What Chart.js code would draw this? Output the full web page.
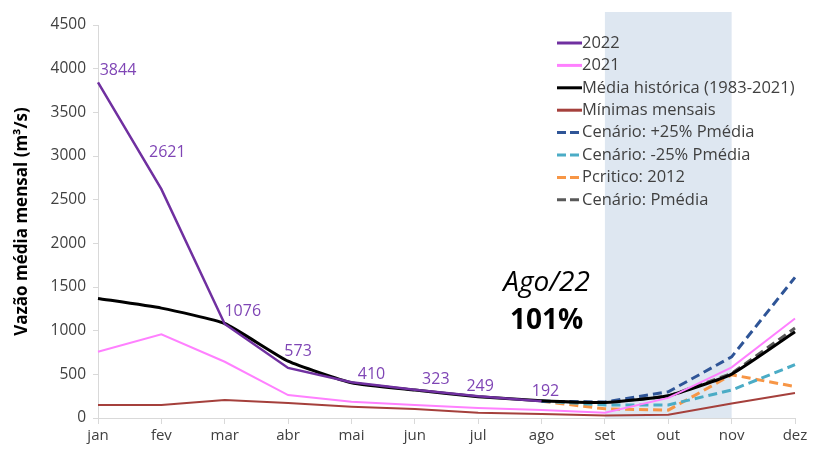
<!DOCTYPE html>
<html>
<head>
<meta charset="utf-8">
<script src="https://cdn.jsdelivr.net/npm/chart.js@4.4.1/dist/chart.umd.min.js"></script>
<style>
  html, body { margin: 0; padding: 0; background: #fff; }
  #wrap { width: 813px; height: 451px; }
</style>
</head>
<body>
<div id="wrap"><canvas id="chart"></canvas></div>
<script>
// Meses e valores (m³/s)
const months = ['jan', 'fev', 'mar', 'abr', 'mai', 'jun', 'jul', 'ago', 'set', 'out', 'nov', 'dez'];
const yTicks = [0, 500, 1000, 1500, 2000, 2500, 3000, 3500, 4000, 4500];

const vazao2022 = [3844, 2621, 1076, 573, 410, 323, 249, 192, null, null, null, null];
const vazao2021 = [759, 958, 644, 263, 187, 149, 114, 92, 60, 230, 580, 1140];
const mediaHistorica = [1369, 1258, 1082, 650, 404, 320, 244, 198, 178, 255, 503, 988];
const minimasMensais = [149, 148, 206, 172, 130, 103, 61, 46, 30, 38, 165, 285];
const cenarioMais25 = [null, null, null, null, null, null, null, 192, 182, 300, 700, 1610];
const cenarioMenos25 = [null, null, null, null, null, null, null, 192, 150, 150, 320, 610];
const pCritico2012 = [null, null, null, null, null, null, null, 192, 105, 90, 495, 360];
const cenarioPmedia = [null, null, null, null, null, null, null, 192, 178, 250, 510, 1030];

const shadeFrom = 'set';
const shadeTo = 'nov';
const annotationTitle = 'Ago/22';
const annotationValue = '101%';

// label offsets (px) for the 2022 data labels
const labelOffsets = [[20, -12], [6, -37], [18, -13], [10, -17], [20, -8], [21, -10], [2, -10], [4, -10]];

const FONT = "'Open Sans', sans-serif";

const shadePlugin = {
  id: 'shade',
  beforeDatasetsDraw(chart) {
    const { ctx, chartArea, scales } = chart;
    const x1 = scales.x.getPixelForValue(months.indexOf(shadeFrom));
    const x2 = scales.x.getPixelForValue(months.indexOf(shadeTo));
    ctx.save();
    ctx.fillStyle = '#DEE7F1';
    ctx.fillRect(x1, chartArea.top - 13, x2 - x1, chartArea.bottom - chartArea.top + 13);
    ctx.restore();
  }
};

const labelsPlugin = {
  id: 'dataLabels',
  afterDatasetsDraw(chart) {
    const { ctx } = chart;
    const meta = chart.getDatasetMeta(0);
    ctx.save();
    ctx.font = '16px ' + FONT;
    ctx.fillStyle = '#7F45B5';
    ctx.textAlign = 'center';
    ctx.textBaseline = 'middle';
    vazao2022.forEach((v, i) => {
      if (v == null) return;
      const pt = meta.data[i];
      const off = labelOffsets[i] || [0, -12];
      ctx.fillText(String(v), pt.x + off[0], pt.y + off[1]);
    });

    // annotation
    const xs = chart.scales.x, ys = chart.scales.y;
    const cx = xs.getPixelForValue(months.indexOf('ago')) + 5;
    ctx.fillStyle = '#000';
    ctx.font = 'italic 400 28px ' + FONT;
    ctx.fillText(annotationTitle, cx, ys.getPixelForValue(1545));
    ctx.font = 'bold 28px ' + FONT;
    ctx.fillText(annotationValue, cx, ys.getPixelForValue(1110));
    ctx.restore();
  }
};

const legendPlugin = {
  id: 'customLegend',
  afterDraw(chart) {
    const { ctx } = chart;
    const x0 = 557, y0 = 43, step = 22.4;
    ctx.save();
    ctx.font = '16.5px ' + FONT;
    ctx.textBaseline = 'middle';
    ctx.textAlign = 'left';
    chart.data.datasets.forEach((ds, i) => {
      const y = y0 + i * step;
      ctx.strokeStyle = ds.borderColor;
      ctx.lineWidth = 3;
      ctx.setLineDash(ds.borderDash && ds.borderDash.length ? [9, 4] : []);
      ctx.beginPath();
      ctx.moveTo(x0, y);
      ctx.lineTo(x0 + 25, y);
      ctx.stroke();
      ctx.setLineDash([]);
      ctx.fillStyle = '#404040';
      ctx.fillText(ds.label, x0 + 25, y);
    });
    ctx.restore();
  }
};

function lineSet(label, data, color, width, dashed) {
  return {
    label: label,
    data: data,
    borderColor: color,
    backgroundColor: color,
    borderWidth: width,
    borderDash: dashed ? [9, 5] : [],
    pointRadius: 0,
    tension: 0,
    spanGaps: false
  };
}

const datasets = [
  lineSet('2022', vazao2022, '#7030A0', 2.5, false),
  lineSet('2021', vazao2021, '#FF80FF', 2, false),
  Object.assign(lineSet('Média histórica (1983-2021)', mediaHistorica, '#000000', 3, false), { tension: 0.15 }),
  lineSet('Mínimas mensais', minimasMensais, '#A5403C', 2, false),
  lineSet('Cenário: +25% Pmédia', cenarioMais25, '#2F5597', 3, true),
  lineSet('Cenário: -25% Pmédia', cenarioMenos25, '#4BACC6', 3, true),
  lineSet('Pcritico: 2012', pCritico2012, '#F79646', 3, true),
  lineSet('Cenário: Pmédia', cenarioPmedia, '#595959', 3, true)
];

new Chart(document.getElementById('chart'), {
  type: 'line',
  data: { labels: months, datasets: datasets },
  options: {
    responsive: true,
    maintainAspectRatio: false,
    animation: false,
    layout: { padding: { top: 25, right: 18, left: 0, bottom: 0 } },
    plugins: { legend: { display: false }, tooltip: { enabled: false } },
    scales: {
      x: {
        offset: false,
        border: { color: '#D9D9D9', width: 1 },
        grid: { drawOnChartArea: false, color: '#D9D9D9', tickLength: 6 },
        ticks: { color: '#404040', font: { family: FONT, size: 15 }, padding: 3, maxRotation: 0 },
        afterFit(scale) { scale.height = 33; }
      },
      y: {
        min: 0,
        max: 4500,
        border: { color: '#D9D9D9', width: 1 },
        grid: { drawOnChartArea: false, color: '#D9D9D9', tickLength: 5 },
        afterBuildTicks(scale) { scale.ticks = yTicks.map(v => ({ value: v })); },
        ticks: {
          color: '#404040',
          font: { family: FONT, size: 15.5 },
          padding: 7,
          callback: v => String(v)
        },
        title: {
          display: true,
          text: 'Vazão média mensal (m³/s)',
          color: '#000',
          font: { family: FONT, size: 17, weight: 'bold' },
          padding: { top: 12, bottom: 0 }
        },
        afterFit(scale) { scale.width = 98; }
      }
    }
  },
  plugins: [shadePlugin, labelsPlugin, legendPlugin]
});
</script>
</body>
</html>
